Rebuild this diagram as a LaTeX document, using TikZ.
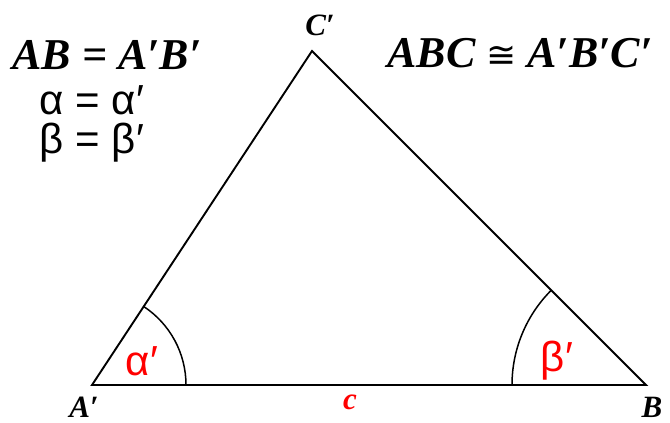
\documentclass[tikz,border=0pt]{standalone}
\usepackage{fontspec}
\setmainfont{Liberation Serif}
\newfontfamily\arialfont{Liberation Sans}
\newfontfamily\symfont{DejaVu Sans}
\usetikzlibrary{angles}
\tikzset{
  vlabel/.style={font=\fontsize{31}{31}\selectfont\bfseries\itshape},
  eqlabel/.style={font=\fontsize{44}{44}\selectfont\bfseries\itshape},
  greek/.style={font=\fontsize{42}{42}\selectfont\arialfont,inner sep=0pt},
}
\begin{document}
\begin{tikzpicture}[x=1pt,y=-1pt,line width=1.9pt]
\useasboundingbox (0,0) rectangle (670,423);
% triangle A'B'C'
\coordinate (A) at (92,385);
\coordinate (B) at (646,385);
\coordinate (C) at (312,51);
\draw (A) -- (B) -- (C) -- cycle;
% angle arcs
\pic[draw,line width=1.5pt,angle radius=94pt] {angle=B--A--C};
\pic[draw,line width=1.5pt,angle radius=134pt] {angle=C--B--A};
% vertex labels
\node[vlabel] (lA) at (84,407) {A′};
\node[vlabel] (lB) at (652,407) {B};
\node[vlabel] (lC) at (320,25) {C′};
\node[vlabel,red] (lc) at (350,402) {c};
% angle names
\node[greek,red] (la) at (142,361) {α′};
\node[greek,red] (lb) at (557,361) {β′};
% given and result
\node[eqlabel] (eAB) at (107,55) {AB = A′B′};
\node[greek] (ea) at (92,100) {α = α′};
\node[greek] (eb) at (92,143) {β = β′};
\node[eqlabel] (eABC) at (520,53) {ABC {\symfont\mdseries\upshape\fontsize{36}{36}\selectfont ≅} A′B′C′};
\end{tikzpicture}
\end{document}
